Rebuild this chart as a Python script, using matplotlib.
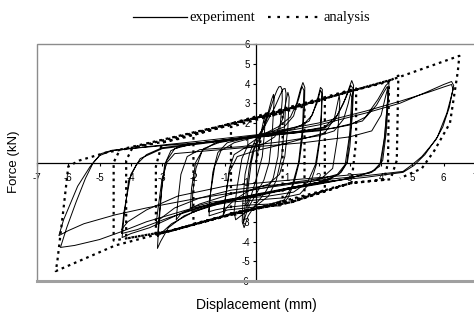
import matplotlib
matplotlib.use("Agg")
import matplotlib.pyplot as plt
from matplotlib.patches import Rectangle
from matplotlib.lines import Line2D

# ---------------- data ----------------
x_ticks = [-7, -6, -5, -4, -3, -2, -1, 1, 2, 3, 4, 5, 6, 7]
y_ticks = [-6, -5, -4, -3, -2, -1, 1, 2, 3, 4, 5, 6]

# experiment: small cycles near the origin
exp_small_x = [0.0, 0.1, 0.2, 0.28, 0.3, 0.27, 0.2, 0.05, -0.1, -0.22, -0.3, -0.25, -0.15, -0.05,
               0.15, 0.35, 0.5, 0.56, 0.58, 0.52, 0.42, 0.25, 0.0, -0.25, -0.38, -0.4, -0.33, -0.22, -0.1,
               0.1, 0.35, 0.58, 0.67, 0.73, 0.79, 0.83, 0.84, 0.78, 0.7, 0.55, 0.3, 0.0, -0.25, -0.38,
               -0.44, -0.42, -0.35, -0.2,
               0.0, 0.3, 0.6, 0.78, 0.87, 0.93, 0.96, 0.92, 0.82, 0.65, 0.4, 0.0, -0.4, -0.65, -0.7,
               -0.6, -0.45, -0.25]
exp_small_y = [0.0, 0.9, 1.8, 2.4, 2.5, 1.5, 0.3, -0.6, -1.4, -2.0, -2.3, -1.2, 0.0, 0.7,
               1.3, 2.3, 3.2, 3.45, 3.2, 1.5, 0.0, -0.9, -1.6, -2.3, -2.9, -3.05, -1.8, -0.3, 0.6,
               1.3, 2.2, 3.3, 3.65, 3.83, 3.85, 3.7, 3.2, 2.0, 0.3, -0.8, -1.5, -2.1, -2.7, -3.3,
               -3.0, -2.0, -0.6, 0.5,
               1.2, 1.9, 2.8, 3.45, 3.72, 3.75, 3.5, 2.0, 0.3, -0.9, -1.7, -2.2, -2.6, -2.9, -2.5,
               -1.2, 0.2, 0.9]

# experiment: cycles with amplitude about 1.5 and 2.1 mm
exp_mid_x = [-0.25, 0.2, 0.7, 1.1, 1.3, 1.42, 1.5, 1.56, 1.55, 1.48, 1.38, 1.22, 1.02, 0.78, 0.3, -0.3,
             -0.9, -1.3, -1.5, -1.47, -1.38, -1.22, -0.92, -0.4,
             0.3, 0.9, 1.2, 1.38, 1.47, 1.53, 1.49, 1.36, 1.15, 0.9, 0.5, -0.2, -0.8, -1.3, -1.52,
             -1.45, -1.32, -1.12, -0.7,
             0.0, 0.8, 1.5, 1.8, 1.98, 2.06, 2.12, 2.1, 2.03, 1.93, 1.75, 1.4, 0.8, 0.0, -0.8, -1.5,
             -1.9, -2.05, -2.02, -1.92, -1.72, -1.3, -0.6,
             0.3, 1.2, 1.7, 1.95, 2.06, 2.11, 2.06, 1.9, 1.65, 1.2, 0.4, -0.6, -1.4, -1.9, -2.1,
             -2.06, -1.93, -1.68, -1.2]
exp_mid_y = [0.9, 1.4, 1.8, 2.3, 3.0, 3.7, 4.05, 3.8, 2.8, 1.2, 0.0, -1.0, -1.8, -2.2, -2.2, -2.3,
             -2.4, -2.6, -2.7, -1.8, -0.5, 0.5, 1.0, 1.2,
             1.45, 1.8, 2.35, 3.3, 3.85, 3.65, 1.8, 0.0, -1.2, -1.9, -2.1, -2.15, -2.25, -2.4, -2.5,
             -1.5, -0.2, 0.6, 1.0,
             1.3, 1.6, 1.9, 2.4, 3.3, 3.8, 3.7, 2.6, 1.0, -0.1, -1.0, -1.6, -1.8, -1.9, -2.0, -2.2,
             -2.4, -2.5, -1.5, -0.3, 0.6, 1.0, 1.2,
             1.4, 1.7, 2.1, 3.0, 3.65, 3.5, 1.5, -0.1, -1.0, -1.5, -1.7, -1.85, -2.0, -2.2, -2.3,
             -1.3, 0.0, 0.7, 1.0]

# experiment: cycles with amplitude about 3.1, 4.2 and 6.3 mm
exp_large_x = [-1.2, -0.5, 0.5, 1.5, 2.2, 2.5, 2.8, 2.98, 3.06, 3.12, 3.08, 3.0, 2.92, 2.72, 2.3, 1.5,
               0.5, -0.5, -1.5, -2.3, -2.8, -3.05, -3.15, -3.12, -3.02, -2.92, -2.72, -2.3,
               -1.5, -0.5, 0.5, 1.5, 2.2, 2.6, 2.88, 3.03, 3.1, 3.03, 2.9, 2.65, 2.0, 1.0, 0.0, -1.0,
               -2.0, -2.7, -3.05, -3.15, -3.1, -3.0, -2.85, -2.6, -2.0,
               -1.0, 0.5, 2.0, 3.0, 3.5, 3.9, 4.15, 4.25, 4.24, 4.16, 4.05, 3.8, 3.0, 2.0, 0.5, -1.0,
               -2.3, -3.4, -4.0, -4.28, -4.22, -4.07, -3.82, -3.5, -3.0,
               -2.0, -0.5, 1.0, 2.5, 3.4, 3.85, 4.1, 4.2, 4.22, 4.12, 4.0, 3.7, 2.8, 1.5, 0.0, -1.5,
               -2.8, -3.8, -4.3, -4.22, -4.0, -3.7, -3.0,
               -1.5, 0.0, 2.0, 3.5, 4.6, 5.5, 6.0, 6.25, 6.32, 6.18, 5.97, 5.75, 5.3, 5.0, 4.7, 3.6,
               2.0, 0.0, -2.0, -3.5, -4.5, -5.5, -6.0, -6.3,
               -6.15, -5.7, -5.3, -5.0, -4.6, -3.5, -2.0, 0.0, 2.0, 3.5, 4.6, 5.5, 6.05, 6.25, 6.3,
               6.1, 5.8, 5.4, 5.05, 4.7, 3.5, 2.0, 0.0, -2.0, -3.5, -4.3, -5.0, -5.8, -6.25,
               -6.05, -5.75, -5.45, -5.2, -4.95, -4.6, -3.0, -1.0, 0.5]
exp_large_y = [1.0, 1.2, 1.4, 1.6, 1.75, 2.1, 3.0, 3.8, 4.15, 3.9, 2.4, 0.8, 0.0, -0.5, -0.9, -1.2,
               -1.5, -1.8, -2.2, -2.7, -3.3, -4.0, -4.35, -3.5, -1.5, -0.1, 0.6, 0.9,
               1.05, 1.25, 1.45, 1.6, 1.8, 2.4, 3.3, 3.9, 3.75, 1.8, 0.0, -0.6, -1.0, -1.3, -1.7, -2.0,
               -2.5, -3.1, -3.6, -3.75, -2.8, -1.0, 0.1, 0.7, 0.95,
               1.15, 1.4, 1.6, 1.9, 2.3, 3.2, 3.9, 4.05, 3.4, 1.5, 0.1, -0.4, -0.8, -1.1, -1.5, -1.9,
               -2.5, -3.3, -3.6, -3.8, -2.8, -0.9, -0.1, 0.4, 0.75,
               0.95, 1.2, 1.45, 1.75, 2.1, 2.9, 3.6, 3.85, 3.5, 1.4, 0.0, -0.5, -0.85, -1.2, -1.7, -2.15,
               -2.8, -3.4, -3.6, -2.5, -0.6, 0.2, 0.7,
               1.0, 1.3, 1.9, 2.5, 3.0, 3.6, 3.95, 4.1, 3.9, 2.8, 1.8, 1.15, 0.3, -0.1, -0.45, -0.65,
               -0.9, -1.35, -1.85, -2.3, -2.65, -3.1, -3.45, -3.7,
               -2.9, -1.2, -0.2, 0.35, 0.6, 0.8, 1.05, 1.4, 2.0, 2.6, 3.1, 3.55, 3.85, 3.95, 3.7,
               2.5, 1.3, 0.4, -0.15, -0.5, -0.75, -1.0, -1.6, -2.3, -3.0, -3.5, -3.9, -4.2, -4.3,
               -3.3, -2.0, -0.8, 0.0, 0.45, 0.62, 0.85, 1.1, 1.35]

# experiment: further cycles (lower / higher slip plateaus in the centre)
exp_extra_x = [-1.05, -0.95, -0.85, -0.7, -0.4, 0.2, 0.6, 0.85, 0.97, 1.02, 1.06, 1.02, 0.92, 0.75,
               0.4, -0.2, -0.7, -0.95, -1.05,
               -0.98, -0.85, -0.6, 0.0, 0.8, 1.5, 2.2, 2.5, 2.62, 2.66, 2.68, 2.6, 2.45, 2.1, 1.2,
               0.2, -0.8, -1.8, -2.4, -2.55, -2.5, -2.4, -2.2, -1.8, -0.5, 0.8, 2.0, 2.5, 2.8,
               2.95, 3.02, 3.06, 3.0, 2.85, 2.6, 1.8, 0.5, -0.8, -1.8, -2.6, -3.1, -3.2, -3.12,
               -3.0, -2.85, -2.6, -1.5, 0.0, 1.5, 3.0, 3.7, 4.0, 4.15, 4.2, 4.22, 4.1, 3.95, 3.6,
               2.5, 1.0, -1.0, -2.5, -3.5, -4.1, -4.3]
exp_extra_y = [-2.7, -1.5, -0.3, 0.4, 0.7, 0.9, 1.3, 2.2, 3.2, 3.55, 3.3, 1.8, 0.3, -0.6,
               -1.1, -1.4, -1.9, -2.3, -2.7,
               -1.8, -0.5, 0.3, 0.6, 0.9, 1.2, 1.5, 2.2, 3.1, 3.4, 3.1, 1.2, -0.3, -0.8, -1.0,
               -1.3, -1.6, -2.1, -2.6, -2.9, -2.0, -0.6, 0.3, 0.65, 0.8, 1.05, 1.35, 1.6, 2.2,
               3.0, 3.5, 3.3, 1.5, -0.1, -0.6, -0.95, -1.15, -1.4, -1.8, -2.3, -2.9, -3.2, -2.2,
               -0.8, 0.0, 0.45, 0.6, 0.8, 1.0, 1.3, 1.6, 2.4, 3.4, 3.7, 3.3, 1.2, -0.2, -0.55,
               -0.7, -0.9, -1.2, -1.7, -2.4, -3.0, -3.4]

# analysis (dotted) path
ana_x = [0.0, 0.3, 0.85, 0.85, -0.8, -0.8, 1.55, 1.55, -2.0, -2.0, 2.2, 2.2, -3.2, -3.2, -3.0,
         3.2, 3.2, 3.05, 2.4, 1.15, -0.55, -2.7, -4.55, -4.55, -4.35, 0.1, 3.0, 4.35, 4.55,
         4.5, 4.3, 3.0, 1.15, -0.55, -2.7, -4.15, -4.15, -3.95, 0.1, 3.0, 4.25, 4.22, 4.1,
         3.0, 1.15, -0.55, -2.7, -4.5, -6.4, -6.35, -6.15, -6.0, -5.65, -4.8, -2.45, 0.1, 3.0,
         4.35, 6.5, 6.45, 6.2, 5.7, 5.3, 4.6]
ana_y = [0.0, 2.3, 2.5, -1.95, -2.7, 1.8, 2.85, -1.75, -3.1, 1.4, 3.2, -1.4, -3.65, -0.2, 1.0,
         3.75, 1.1, -1.05, -1.3, -2.0, -2.5, -3.45, -3.95, 0.0, 0.65, 2.3, 3.6, 4.2, 4.4,
         0.1, -0.85, -1.05, -2.0, -2.5, -3.45, -3.85, 0.1, 0.75, 2.3, 3.6, 4.1, 0.0, -0.85,
         -1.05, -2.0, -2.5, -3.45, -4.2, -5.5, -5.0, -2.3, -0.2, 0.1, 0.5, 1.2, 2.3, 3.6,
         4.2, 5.4, 4.6, 2.0, 0.6, -0.3, -0.8]

legend_labels = ["experiment", "analysis"]
x_label = "Displacement (mm)"
y_label = "Force (kN)"

# ---------------- figure ----------------
W, H = 474, 312
fig = plt.figure(figsize=(W / 100, H / 100), dpi=100)
ax = fig.add_axes([37 / W, 1 - 281 / H, 438 / W, 237 / H])
ax.set_xlim(-7, 7)
ax.set_ylim(-6, 6)

for xs, ys in [(exp_small_x, exp_small_y), (exp_mid_x, exp_mid_y),
               (exp_large_x, exp_large_y), (exp_extra_x, exp_extra_y)]:
    ax.plot(xs, ys, color="black", lw=0.7, solid_joinstyle="round", zorder=3)
ax.plot(ana_x, ana_y, color="black", lw=1.6, linestyle=(0, (1.2, 1.8)), zorder=4)

# axes through the origin
for side in ("top", "right"):
    ax.spines[side].set_visible(False)
ax.spines["left"].set_position(("data", 0))
ax.spines["bottom"].set_position(("data", 0))
ax.spines["left"].set_linewidth(0.9)
ax.spines["bottom"].set_linewidth(0.9)

ax.set_xticks(x_ticks)
ax.set_xticklabels([str(v) for v in x_ticks])
ax.set_yticks(y_ticks)
ax.set_yticklabels([str(v) for v in y_ticks])
ax.tick_params(axis="x", direction="out", length=2.5, width=0.8, pad=5, labelsize=7)
ax.tick_params(axis="y", direction="out", length=2.5, width=0.8, pad=2, labelsize=7)
for lab in ax.get_xticklabels() + ax.get_yticklabels():
    lab.set_fontfamily("Liberation Sans")

# gray plot-area frame
ax.add_patch(Rectangle((0, 0), 1, 1, transform=ax.transAxes, fill=False,
                       edgecolor="#8c8c8c", lw=1.0, clip_on=False, zorder=5))
ax.add_line(Line2D([0, 1], [0, 0], transform=ax.transAxes, color="#a0a0a0", lw=2.2,
                   clip_on=False, zorder=5))

# axis titles
fig.text(196 / W, 1 - 305 / H, x_label, fontsize=10, family="Liberation Sans",
         ha="left", va="center")
fig.text(14 / W, 1 - 162 / H, y_label, fontsize=9.5, family="Liberation Sans",
         rotation=90, ha="center", va="center")

# legend (drawn at the top, as in the reference)
ly = 1 - 17 / H
fig.add_artist(Line2D([133 / W, 187 / W], [ly, ly], color="black", lw=0.9))
fig.text(189 / W, ly, legend_labels[0], fontsize=10.5, family="Liberation Serif",
         ha="left", va="center")
fig.add_artist(Line2D([268 / W, 320 / W], [ly, ly], color="black", lw=1.6,
                      linestyle=(0, (1.2, 3.0))))
fig.text(323 / W, ly, legend_labels[1], fontsize=10.5, family="Liberation Serif",
         ha="left", va="center")

fig.savefig("out.png", dpi=100)
